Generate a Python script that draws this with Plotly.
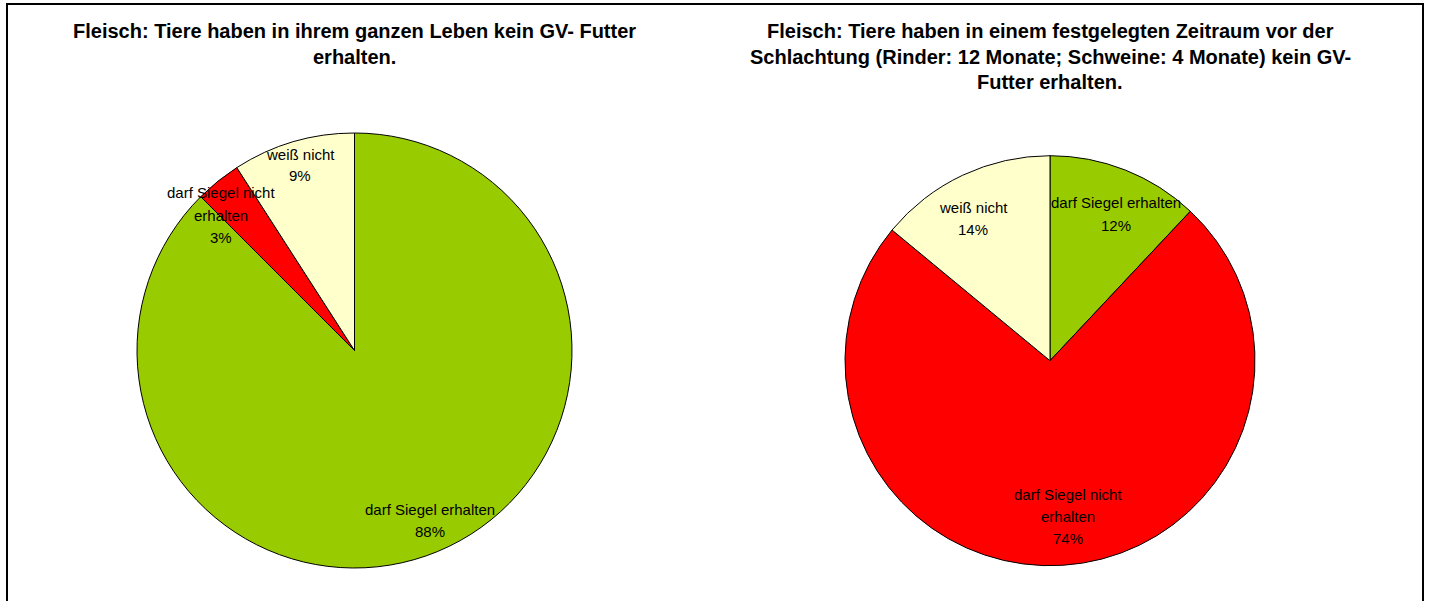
import plotly.graph_objects as go

# ---- data ----
categories = ["darf Siegel erhalten", "darf Siegel nicht erhalten", "weiß nicht"]
colors = ["#99CC00", "#FF0000", "#FFFFCC"]

left_values = [87.5, 3.4, 9.1]
right_values = [12, 74, 14]

left_title = ["Fleisch: Tiere haben in ihrem ganzen Leben kein GV- Futter",
              "erhalten."]
right_title = ["Fleisch: Tiere haben in einem festgelegten Zeitraum vor der",
               "Schlachtung (Rinder: 12 Monate; Schweine: 4 Monate) kein GV-",
               "Futter erhalten."]

# label line splits (text only)
left_label_lines = [["darf Siegel erhalten"], ["darf Siegel nicht", "erhalten"], ["weiß nicht"]]
right_label_lines = [["darf Siegel erhalten"], ["darf Siegel nicht", "erhalten"], ["weiß nicht"]]

# ---- layout (pixel geometry) ----
W, H = 1429, 601


def px(x):
    return x / W


def py(y):
    return 1 - y / H


left_pie = dict(cx=354.5, cy=350.5, r=217.5)
right_pie = dict(cx=1050, cy=360.7, r=205)

# label anchor positions (pixels: center x, first line y)
left_label_pos = [(430, 509), (221, 193), (300, 154)]
right_label_pos = [(1116, 203), (1068, 494), (973, 207)]
label_line_gap = 22
title_line_gap = 25.5

fig = go.Figure()


def add_pie(values, geom):
    fig.add_trace(go.Pie(
        values=values,
        labels=categories,
        marker=dict(colors=colors, line=dict(color="#000000", width=1)),
        sort=False,
        direction="clockwise",
        rotation=0,
        textinfo="none",
        hoverinfo="label+percent",
        showlegend=False,
        domain=dict(
            x=[px(geom["cx"] - geom["r"]), px(geom["cx"] + geom["r"])],
            y=[py(geom["cy"] + geom["r"]), py(geom["cy"] - geom["r"])],
        ),
    ))


add_pie(left_values, left_pie)
add_pie(right_values, right_pie)

annotations = []
label_font = dict(family="Liberation Sans, Arial, sans-serif", size=15, color="#000000")
title_font = dict(family="Liberation Sans, Arial, sans-serif", size=20, color="#000000")


def add_labels(values, lines_list, positions):
    total = sum(values)
    for v, lines, (x, y) in zip(values, lines_list, positions):
        pct = f"{round(v / total * 100)}%"
        all_lines = list(lines) + [pct]
        for i, t in enumerate(all_lines):
            annotations.append(dict(
                x=px(x), y=py(y + i * label_line_gap), xref="paper", yref="paper",
                text=t, showarrow=False, xanchor="center", yanchor="middle",
                font=label_font,
            ))


def add_title(lines, cx, y0):
    for i, t in enumerate(lines):
        annotations.append(dict(
            x=px(cx), y=py(y0 + i * title_line_gap), xref="paper", yref="paper",
            text=f"<b>{t}</b>", showarrow=False, xanchor="center", yanchor="middle",
            font=title_font,
        ))


add_labels(left_values, left_label_lines, left_label_pos)
add_labels(right_values, right_label_lines, right_label_pos)
add_title(left_title, 354, 31)
add_title(right_title, 1050, 31)

fig.update_layout(
    width=W, height=H,
    margin=dict(l=0, r=0, t=0, b=0),
    paper_bgcolor="#FFFFFF",
    plot_bgcolor="#FFFFFF",
    annotations=annotations,
    shapes=[dict(
        type="rect", xref="paper", yref="paper",
        x0=px(7), x1=px(1423), y0=py(640), y1=py(4),
        line=dict(color="#000000", width=2), fillcolor="rgba(0,0,0,0)",
    )],
)

fig.write_html(
    "out.html",
    config={"displayModeBar": False},
    post_script="document.body.style.margin='0px';document.body.style.overflow='hidden';",
)
